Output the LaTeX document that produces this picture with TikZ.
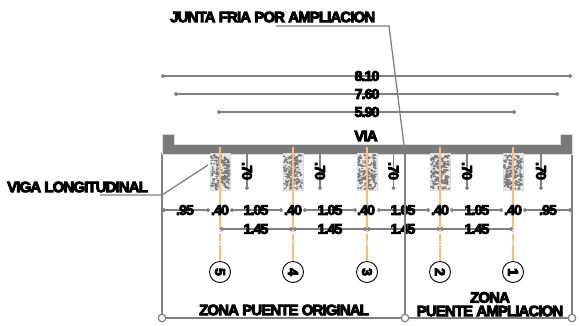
\documentclass[tikz,border=0pt]{standalone}
\usepackage{fontspec}
\usetikzlibrary{arrows.meta}
\newfontfamily\labf[UprightFont=* Bold,LetterSpace=-6]{Liberation Sans}
\newcommand\lab{\labf\special{pdf:code 2 Tr 0.9 w 0 0 0 RG}}
\definecolor{gln}{HTML}{808080}
\definecolor{gdk}{HTML}{7A7A7A}
\definecolor{gpale}{HTML}{DADADA}
\definecolor{orng}{HTML}{F8BE78}
\tikzset{
  gline/.style={draw=gln,line width=1.3pt},
  dimline/.style={draw=gln,line width=1.2pt,{Circle[length=4pt]}-{Circle[length=4pt]}},
  axisline/.style={draw=orng,line width=1.3pt},
  axisdash/.style={draw=orng,line width=1.3pt,dash pattern=on 7pt off 1.5pt on 1.5pt off 1.5pt},
  lbl/.style={font=\fontsize{14}{14}\selectfont\lab,inner sep=0pt,text=black},
  lblbig/.style={font=\fontsize{15}{15}\selectfont\lab,inner sep=0pt,text=black},
  numc/.style={circle,draw=black,line width=0.9pt,minimum size=21pt,inner sep=0pt,fill=white,font=\fontsize{14}{14}\selectfont\lab},
  endc/.style={circle,draw=gln,line width=1.2pt,minimum size=7.5pt,inner sep=0pt,fill=white},
  beambox/.style={rectangle,draw=gpale,line width=1pt,fill=gpale!60,minimum width=20pt,minimum height=37pt,inner sep=0pt},
  ticklbl/.style={lbl,rotate=-90}
}
\begin{document}
\begin{tikzpicture}[x=1pt,y=-1pt]
\useasboundingbox[fill=white] (0,0) rectangle (580,325);
% zone frame
\node[endc] (cl) at (162,318) {};
\node[endc] (cm) at (405,318) {};
\node[endc] (cr) at (572,318) {};
\coordinate (tl) at (162,153);
\coordinate (tr) at (572,153);
\coordinate (tm) at (405,153);
\draw[gline] (tl) -- (cl);
\draw[gline] (tr) -- (cr);
\draw[draw=gln,line width=1.5pt] (cl) -- (cm) -- (cr);
% deck
\fill[gdk,draw=gpale,line width=1pt] (162,134) -- (174,134) -- (174,144) -- (560,144) -- (560,134) -- (572,134) -- (572,154) -- (162,154) -- cycle;
% beams
\pgfmathsetseed{4711}
\foreach \n/\x in {b5/220,b4/293,b3/367,b2/440,b1/513}{
  \node[beambox] (\n) at (\x,171.5) {};
  \foreach \k in {1,...,170}{
    \pgfmathsetmacro{\px}{\x-9+18*rnd}
    \pgfmathsetmacro{\py}{155+34*rnd}
    \pgfmathsetmacro{\pw}{0.7+1.2*rnd}
    \pgfmathsetmacro{\ph}{0.6+0.8*rnd}
    \fill[gdk] (\px,\py) ellipse ({\pw pt} and {\ph pt});
  }
}
% axes and numbered circles
\foreach \n/\x/\t in {c5/220/5,c4/293/4,c3/367/3,c2/440/2,c1/513/1}{
  \node[numc] (\n) at (\x,272) {\rotatebox{-90}{\t}};
  \coordinate (\n t) at (\x,147);
  \coordinate (\n m) at (\x,222);
  \coordinate (\n n) at (\x,250);
  \draw[axisline] (\n t) -- (\n m);
  \draw[axisdash] (\n m) -- (\n n);
  \draw[axisline] (\n n) -- (\n);
}
% overall dimensions
\coordinate (a1) at (161,76); \coordinate (a2) at (572,76);
\coordinate (b1) at (174,94); \coordinate (b2) at (559,94);
\coordinate (d1) at (217,112); \coordinate (d2) at (516,112);
\draw[dimline] (a1) -- (a2);
\draw[dimline] (b1) -- (b2);
\draw[dimline] (d1) -- (d2);
\node[lbl] (l810) at (367,76) {8.10};
\node[lbl] (l760) at (367,94) {7.60};
\node[lbl] (l590) at (367,112) {5.90};
\node[lblbig] (via) at (366,136) {VIA};
% beam spacing ticks
\foreach \n/\x in {k1/247,k2/320,k3/393.5,k4/467,k5/541}{
  \coordinate (\n s) at (\x,154);
  \coordinate (\n e) at (\x,190);
  \draw[draw=gln,line width=1.1pt,-{Circle[length=4pt]}] (\n s) -- (\n e);
  \node[ticklbl] (\n l) at (\x,171) {.70};
}
% dimension row 1
\coordinate (r0) at (162,210);
\foreach \n/\x in {r1/210,r2/230,r3/283,r4/303,r5/357,r6/377,r7/430,r8/450,r9/503,r10/523}{\coordinate (\n) at (\x,210);}
\coordinate (r11) at (572,210);
\draw[dimline] (r0) -- (r1);
\draw[dimline] (r2) -- (r3);
\draw[dimline] (r4) -- (r5);
\draw[dimline] (r6) -- (r7);
\draw[dimline] (r8) -- (r9);
\draw[dimline] (r10) -- (r11);
\foreach \n/\x/\t in {p1/185/.95,p2/220/.40,p3/256/1.05,p4/293/.40,p5/330/1.05,p6/366/.40,p7/403/1.05,p8/440/.40,p9/477/1.05,p10/513/.40,p11/548/.95}{
  \node[lbl] (\n) at (\x,210) {\t};
}
% dimension row 2
\foreach \n/\x in {q1/220,q2/293,q3/367,q4/440,q5/513}{\coordinate (\n) at (\x,229);}
\draw[dimline] (q1) -- (q2);
\draw[dimline] (q2) -- (q3);
\draw[dimline] (q3) -- (q4);
\draw[dimline] (q4) -- (q5);
\foreach \n/\x in {w1/256,w2/330,w3/403,w4/477}{
  \node[lbl] (\n) at (\x,229) {1.45};
}
% joint line runs over the texts
\draw[gline] (tm) -- (cm);
% leaders and labels
\node[lblbig,anchor=west] (junta) at (170,17) {JUNTA FRIA POR AMPLIACION};
\coordinate (j1) at (276,26);
\coordinate (j2) at (389,26);
\coordinate (j3) at (405,153);
\draw[gline] (j1) -- (j2) -- (j3);
\node[lblbig,anchor=west] (viga) at (7,187) {VIGA LONGITUDINAL};
\coordinate (v1) at (100,195);
\coordinate (v2) at (162,195);
\coordinate (v3) at (208,165);
\draw[gline] (v1) -- (v2) -- (v3);
\node[lblbig] (zo) at (284,310) {ZONA PUENTE ORIGINAL};
\node[lblbig] (za) at (490,297.5) {ZONA};
\node[lblbig] (zb) at (490,311) {PUENTE AMPLIACION};
\end{tikzpicture}
\end{document}
